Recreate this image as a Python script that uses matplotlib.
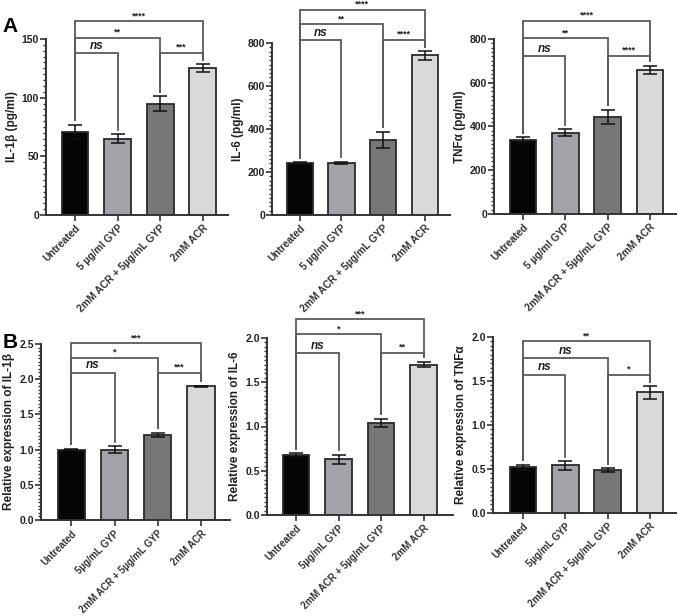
import matplotlib
matplotlib.use("Agg")
import matplotlib.pyplot as plt
from matplotlib.ticker import MultipleLocator
import numpy as np

plt.rcParams['font.family'] = ['Liberation Sans', 'DejaVu Sans']
plt.rcParams['font.weight'] = 'bold'

labels_A = ["Untreated", "5 µg/ml GYP", "2mM ACR + 5µg/mL GYP", "2mM ACR"]
labels_B = ["Untreated", "5µg/mL GYP", "2mM ACR + 5µg/mL GYP", "2mM ACR"]

il1b_elisa = [71, 65, 95, 125]
il1b_elisa_err = [6, 4, 6, 3.5]
il6_elisa = [242, 243, 350, 742]
il6_elisa_err = [5, 5, 38, 20]
tnf_elisa = [340, 372, 445, 660]
tnf_elisa_err = [12, 16, 32, 18]

il1b_rel = [1.00, 1.00, 1.21, 1.90]
il1b_rel_err = [0.01, 0.05, 0.03, 0.01]
il6_rel = [0.68, 0.63, 1.04, 1.70]
il6_rel_err = [0.02, 0.05, 0.05, 0.03]
tnf_rel = [0.52, 0.54, 0.49, 1.37]
tnf_rel_err = [0.03, 0.05, 0.02, 0.07]

# significance: (bar i, bar j, bracket height, label)
sig_il1b_elisa = [(0, 1, 138, "ns"), (0, 2, 151, "**"), (0, 3, 165, "****"), (2, 3, 138, "***")]
sig_il6_elisa = [(0, 1, 814, "ns"), (0, 2, 888, "**"), (0, 3, 955, "****"), (2, 3, 814, "****")]
sig_tnf_elisa = [(0, 1, 722, "ns"), (0, 2, 804, "**"), (0, 3, 882, "****"), (2, 3, 722, "****")]
sig_il1b_rel = [(0, 1, 2.09, "ns"), (0, 2, 2.30, "*"), (0, 3, 2.51, "***"), (2, 3, 2.09, "***")]
sig_il6_rel = [(0, 1, 1.83, "ns"), (0, 2, 2.04, "*"), (0, 3, 2.21, "***"), (2, 3, 1.83, "**")]
sig_tnf_rel = [(0, 1, 1.57, "ns"), (0, 2, 1.76, "ns"), (0, 3, 1.95, "**"), (2, 3, 1.57, "*")]

bar_colors = ["#050505", "#a2a2a8", "#777777", "#d9d9d9"]

fig = plt.figure(figsize=(6.77, 6.16), dpi=100)
W, H = 677, 616

def make_ax(left, right, bottom_px, top_px):
    return fig.add_axes([left / W, 1 - bottom_px / H, (right - left) / W, (bottom_px - top_px) / H])

panels = [
    dict(box=(46, 228, 215, 39), vals=il1b_elisa, err=il1b_elisa_err, sig=sig_il1b_elisa,
         ymax=150, major=50, minor=5, ylabel="IL-1β (pg/ml)", fmt="{:.0f}", labels=labels_A,
         xl=(-0.68, 3.59), xfs=7.3),
    dict(box=(272, 450, 215, 43), vals=il6_elisa, err=il6_elisa_err, sig=sig_il6_elisa,
         ymax=800, major=200, minor=20, ylabel="IL-6 (pg/ml)", fmt="{:.0f}", labels=labels_A,
         xl=(-0.67, 3.61), xfs=7.3),
    dict(box=(494, 677, 214, 39), vals=tnf_elisa, err=tnf_elisa_err, sig=sig_tnf_elisa,
         ymax=800, major=200, minor=20, ylabel="TNFα (pg/ml)", fmt="{:.0f}", labels=labels_A,
         xl=(-0.69, 3.64), xfs=7.3),
    dict(box=(41, 230, 520, 344), vals=il1b_rel, err=il1b_rel_err, sig=sig_il1b_rel,
         ymax=2.5, major=0.5, minor=0.05, ylabel="Relative expression of IL-1β", fmt="{:.1f}", labels=labels_B,
         xl=(-0.7, 3.67), xfs=6.9),
    dict(box=(267, 453, 515, 338), vals=il6_rel, err=il6_rel_err, sig=sig_il6_rel,
         ymax=2.0, major=0.5, minor=0.05, ylabel="Relative expression of IL-6", fmt="{:.1f}", labels=labels_B,
         xl=(-0.68, 3.69), xfs=7.0),
    dict(box=(493, 677, 513, 337), vals=tnf_rel, err=tnf_rel_err, sig=sig_tnf_rel,
         ymax=2.0, major=0.5, minor=0.05, ylabel="Relative expression of TNFα", fmt="{:.1f}", labels=labels_B,
         xl=(-0.71, 3.64), xfs=7.0),
]

line_col = "#5a5a5a"
for p in panels:
    ax = make_ax(*p["box"])
    x = np.arange(len(p["vals"]))
    ax.bar(x, p["vals"], width=0.63, color=bar_colors, edgecolor="#2a2a2a", linewidth=1.3, zorder=2)
    ax.errorbar(x, p["vals"], yerr=p["err"], fmt="none", ecolor="#111111", elinewidth=1.1,
                capsize=5, capthick=1.1, zorder=3)
    ax.set_xlim(*p["xl"])
    ax.set_ylim(0, p["ymax"])
    ax.yaxis.set_major_locator(MultipleLocator(p["major"]))
    ax.yaxis.set_minor_locator(MultipleLocator(p["minor"]))
    ax.set_yticklabels([p["fmt"].format(v) for v in ax.get_yticks()])
    ax.set_xticks(x)
    ax.set_xticklabels(p["labels"], rotation=45, ha="right", rotation_mode="anchor",
                       fontsize=p["xfs"], fontweight="bold", color="#222222")
    for s in ["top", "right"]:
        ax.spines[s].set_visible(False)
    for s in ["left", "bottom"]:
        ax.spines[s].set_linewidth(1.4)
        ax.spines[s].set_color("#333333")
    ax.tick_params(axis="y", which="major", length=4, width=1.2, labelsize=7.5, colors="#333333", pad=1)
    ax.tick_params(axis="y", which="minor", length=2.5, width=1.0, colors="#333333")
    ax.tick_params(axis="x", which="major", length=4, width=1.2, colors="#333333", pad=2)
    for t in ax.get_yticklabels():
        t.set_fontweight("bold")
        t.set_color("#222222")
    ax.set_ylabel(p["ylabel"], fontsize=8.5, fontweight="bold", color="#222222", labelpad=3)
    gap = 0.025 * p["ymax"]
    tops = [v + e for v, e in zip(p["vals"], p["err"])]
    for i, j, h, lab in p["sig"]:
        ax.plot([i, i, j, j], [tops[i] + gap, h, h, tops[j] + gap], color=line_col, lw=1.3,
                clip_on=False, zorder=1, solid_joinstyle="miter")
        if lab == "ns":
            ax.text((i + j) / 2, h + 0.008 * p["ymax"], lab, ha="center", va="bottom",
                    fontsize=8.5, fontstyle="italic", fontweight="bold", color="#222222", clip_on=False)
        else:
            ax.text((i + j) / 2, h + 0.006 * p["ymax"], lab, ha="center", va="bottom",
                    fontsize=6.5, fontweight="bold", color="#222222", clip_on=False)

fig.text(10 / W, 1 - 27 / H, "A", fontsize=15, fontweight="bold", ha="center", va="center")
fig.text(10 / W, 1 - 343 / H, "B", fontsize=15, fontweight="bold", ha="center", va="center")

fig.savefig("out.png", dpi=100, facecolor="white")
